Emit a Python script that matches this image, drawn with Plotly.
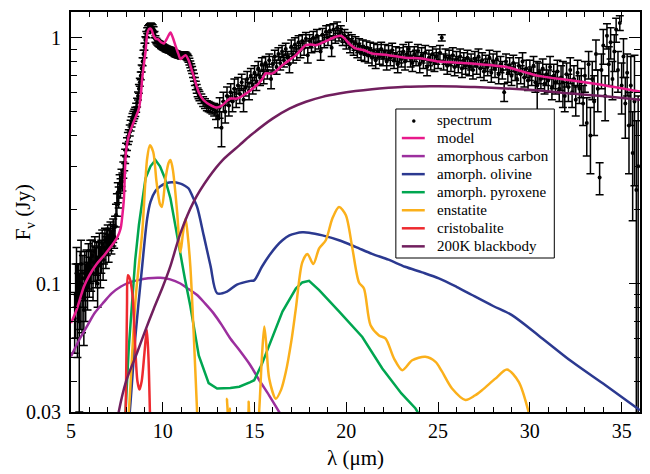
import plotly.graph_objects as go

# ---- observed spectrum (wavelength in micron, flux in Jy, 1-sigma error) ----
spec_wl = [5.20, 5.25, 5.30, 5.35, 5.40, 5.45, 5.50, 5.55, 5.60, 5.65, 5.70, 5.75, 5.80, 5.85, 5.90, 5.95,
           6.00, 6.05, 6.10, 6.15, 6.20, 6.25, 6.30, 6.35, 6.40, 6.45, 6.50, 6.55, 6.60, 6.65, 6.70, 6.75,
           6.80, 6.85, 6.90, 6.95, 7.00, 7.05, 7.10, 7.15, 7.20, 7.25, 7.30, 7.35, 7.40, 7.45, 7.50, 7.55,
           7.60, 7.65, 7.70, 7.75, 7.80, 7.85, 7.90, 7.95, 8.00, 8.05, 8.10, 8.15, 8.20, 8.25, 8.30, 8.35,
           8.40, 8.45, 8.50, 8.55, 8.60, 8.65, 8.70, 8.75, 8.80, 8.85, 8.90, 8.95, 9.00, 9.05, 9.10, 9.15,
           9.20, 9.25, 9.30, 9.35, 9.40, 9.45, 9.50, 9.55, 9.60, 9.65, 9.70, 9.75, 9.80, 9.85, 9.90, 9.95,
           10.00, 10.05, 10.10, 10.15, 10.20, 10.25, 10.30, 10.35, 10.40, 10.45, 10.50, 10.55, 10.60, 10.65,
           10.70, 10.75, 10.80, 10.85, 10.90, 10.95, 11.00, 11.05, 11.10, 11.15, 11.20, 11.25, 11.30, 11.35,
           11.40, 11.45, 11.50, 11.55, 11.60, 11.65, 11.70, 11.75, 11.80, 11.85, 11.90, 11.95, 12.00, 12.10,
           12.20, 12.30, 12.40, 12.50, 12.60, 12.70, 12.80, 12.90,
           13.0, 13.1, 13.2, 13.3, 13.4, 13.5, 13.6, 13.7, 13.8, 13.9,
           14.0, 14.1, 14.2, 14.3, 14.4, 14.5, 14.6, 14.7, 14.8, 14.9,
           15.0, 15.1, 15.2, 15.3, 15.4, 15.5, 15.6, 15.7, 15.8, 15.9,
           16.0, 16.1, 16.2, 16.3, 16.4, 16.5, 16.6, 16.7, 16.8, 16.9,
           17.0, 17.1, 17.2, 17.3, 17.4, 17.5, 17.6, 17.7, 17.8, 17.9,
           18.0, 18.1, 18.2, 18.3, 18.4, 18.5, 18.6, 18.7, 18.8, 18.9,
           19.0, 19.1, 19.2, 19.3, 19.4, 19.5, 19.6, 19.7, 19.8, 19.9,
           20.0, 20.1, 20.2, 20.3, 20.4, 20.5, 20.6, 20.7, 20.8, 20.9,
           21.0, 21.1, 21.2, 21.3, 21.4, 21.5, 21.6, 21.7, 21.8, 21.9,
           22.0, 22.1, 22.2, 22.3, 22.4, 22.5, 22.6, 22.7, 22.8, 22.9,
           23.0, 23.1, 23.2, 23.3, 23.4, 23.5, 23.6, 23.7, 23.8, 23.9,
           24.0, 24.1, 24.2, 24.3, 24.4, 24.5, 24.6, 24.7, 24.8, 24.9,
           25.0, 25.1, 25.2, 25.3, 25.4, 25.5, 25.6, 25.7, 25.8, 25.9,
           26.0, 26.1, 26.2, 26.3, 26.4, 26.5, 26.6, 26.7, 26.8, 26.9,
           27.0, 27.1, 27.2, 27.3, 27.4, 27.5, 27.6, 27.7, 27.8, 27.9,
           28.0, 28.1, 28.2, 28.3, 28.4, 28.5, 28.6, 28.7, 28.8, 28.9,
           29.0, 29.1, 29.2, 29.3, 29.4, 29.5, 29.6, 29.7, 29.8, 29.9,
           30.0, 30.1, 30.2, 30.3, 30.4, 30.5, 30.6, 30.7, 30.8, 30.9,
           31.0, 31.1, 31.2, 31.3, 31.4, 31.5, 31.6, 31.7, 31.8, 31.9,
           32.0, 32.1, 32.2, 32.3, 32.4, 32.5, 32.6, 32.7, 32.8, 32.9,
           33.0, 33.1, 33.2, 33.3, 33.4, 33.5, 33.6, 33.7, 33.8, 33.9,
           34.0, 34.1, 34.2, 34.3, 34.4, 34.5, 34.6, 34.7, 34.8, 34.9,
           35.0, 35.1, 35.2, 35.3, 35.4, 35.5, 35.6, 35.7, 35.8, 35.9]
spec_flux = [0.072, 0.090, 0.110, 0.085, 0.095, 0.070, 0.100, 0.120, 0.088, 0.105, 0.078, 0.110, 0.095, 0.115, 0.100, 0.120,
             0.108, 0.125, 0.115, 0.130, 0.110, 0.122, 0.135, 0.118, 0.128, 0.100, 0.125, 0.140, 0.118, 0.130, 0.145, 0.125,
             0.140, 0.150, 0.135, 0.148, 0.155, 0.140, 0.152, 0.160, 0.148, 0.158, 0.165, 0.155, 0.170, 0.190, 0.210, 0.235,
             0.225, 0.255, 0.245, 0.270, 0.260, 0.290, 0.310, 0.330, 0.350, 0.370, 0.390, 0.400, 0.420, 0.440, 0.455, 0.470,
             0.480, 0.490, 0.500, 0.520, 0.545, 0.580, 0.620, 0.660, 0.700, 0.750, 0.800, 0.860, 0.920, 0.980, 1.030, 1.070,
             1.090, 1.100, 1.110, 1.120, 1.110, 1.100, 1.080, 1.030, 0.990, 0.970, 0.960, 0.950, 0.945, 0.940, 0.930, 0.925,
             0.920, 0.915, 0.910, 0.905, 0.900, 0.898, 0.895, 0.892, 0.890, 0.885, 0.880, 0.875, 0.870, 0.865,
             0.860, 0.858, 0.855, 0.852, 0.850, 0.848, 0.845, 0.848, 0.850, 0.852, 0.850, 0.848, 0.840, 0.832,
             0.820, 0.800, 0.780, 0.760, 0.740, 0.715, 0.690, 0.665, 0.640, 0.620, 0.600, 0.590, 0.580, 0.565,
             0.550, 0.540, 0.530, 0.525, 0.520, 0.515, 0.510, 0.500,
             0.48, 0.52, 0.43, 0.55, 0.50, 0.58, 0.53, 0.60, 0.55, 0.62,
             0.57, 0.64, 0.59, 0.66, 0.56, 0.63, 0.68, 0.61, 0.70, 0.64,
             0.72, 0.66, 0.75, 0.69, 0.78, 0.71, 0.79, 0.73, 0.81, 0.68,
             0.78, 0.84, 0.76, 0.86, 0.79, 0.88, 0.81, 0.90, 0.83, 0.78,
             0.92, 0.85, 0.94, 0.87, 0.96, 0.89, 0.97, 0.91, 0.99, 0.85,
             0.97, 0.93, 1.00, 0.94, 1.02, 0.96, 0.88, 1.03, 0.97, 1.06,
             0.99, 1.07, 0.91, 1.08, 1.01, 1.10, 1.03, 1.06, 0.99, 1.02,
             0.96, 0.99, 0.93, 0.97, 0.91, 0.95, 0.89, 0.93, 0.87, 0.92,
             0.86, 0.91, 0.85, 0.90, 0.83, 0.89, 0.81, 0.88, 0.84, 0.90,
             0.83, 0.88, 0.80, 0.87, 0.83, 0.89, 0.81, 0.86, 0.78, 0.85,
             0.82, 0.88, 0.80, 0.86, 0.90, 0.82, 0.79, 0.86, 0.83, 0.88,
             0.78, 0.85, 0.81, 0.87, 0.76, 0.83, 0.80, 0.86, 0.79, 0.84,
             0.81, 0.87, 1.00, 0.80, 0.84, 0.77, 0.83, 0.79, 0.85, 0.76,
             0.82, 0.78, 0.84, 0.75, 0.81, 0.77, 0.83, 0.76, 0.80, 0.74,
             0.82, 0.77, 0.84, 0.75, 0.81, 0.73, 0.79, 0.76, 0.83, 0.72,
             0.80, 0.75, 0.82, 0.71, 0.78, 0.74, 0.60, 0.80, 0.72, 0.77,
             0.70, 0.79, 0.73, 0.68, 0.77, 0.71, 0.80, 0.69, 0.75, 0.67,
             0.74, 0.70, 0.77, 0.66, 0.64, 0.72, 0.68, 0.75, 0.65, 0.71,
             0.67, 0.76, 0.63, 0.70, 0.66, 0.73, 0.62, 0.69, 0.66, 0.58,
             0.71, 0.63, 0.74, 0.60, 0.68, 0.56, 0.72, 0.62, 0.66, 0.54,
             0.70, 0.45, 0.78, 0.40, 0.68, 0.55, 0.86, 0.62, 0.27, 0.74,
             0.93, 0.58, 1.02, 0.78, 0.96, 0.68, 0.88, 1.08, 0.74, 1.15,
             0.64, 0.84, 0.54, 0.72, 0.44, 0.64, 0.34, 0.55, 0.24, 0.30]
spec_err = [0.020, 0.030, 0.030, 0.035, 0.025, 0.040, 0.035, 0.030, 0.025, 0.025, 0.022, 0.025, 0.025, 0.022, 0.022, 0.025,
            0.020, 0.025, 0.022, 0.020, 0.025, 0.020, 0.020, 0.022, 0.020, 0.020, 0.022, 0.020, 0.022, 0.020, 0.020, 0.022,
            0.020, 0.018, 0.020, 0.018, 0.018, 0.018, 0.016, 0.018, 0.016, 0.016, 0.018, 0.016, 0.018, 0.020, 0.022, 0.022,
            0.022, 0.022, 0.022, 0.022, 0.022, 0.022, 0.022, 0.022, 0.022, 0.022, 0.022, 0.022, 0.022, 0.022, 0.022, 0.022,
            0.022, 0.022, 0.022, 0.022, 0.022, 0.022, 0.025, 0.025, 0.025, 0.025, 0.030, 0.030, 0.030, 0.030, 0.030, 0.030,
            0.030, 0.030, 0.030, 0.030, 0.030, 0.030, 0.030, 0.030, 0.030, 0.025, 0.025, 0.025, 0.025, 0.025, 0.025, 0.025,
            0.025, 0.025, 0.025, 0.025, 0.025, 0.025, 0.025, 0.025, 0.025, 0.025, 0.025, 0.025, 0.025, 0.025,
            0.025, 0.025, 0.025, 0.025, 0.025, 0.025, 0.025, 0.025, 0.025, 0.025, 0.025, 0.025, 0.025, 0.025,
            0.025, 0.025, 0.025, 0.025, 0.025, 0.025, 0.025, 0.025, 0.025, 0.025, 0.025, 0.025, 0.025, 0.025,
            0.025, 0.025, 0.025, 0.025, 0.025, 0.025, 0.030, 0.035,
            0.05, 0.05, 0.07, 0.05, 0.05, 0.05, 0.05, 0.05, 0.05, 0.06,
            0.05, 0.05, 0.05, 0.05, 0.06, 0.05, 0.05, 0.05, 0.05, 0.05,
            0.05, 0.05, 0.05, 0.05, 0.05, 0.06, 0.05, 0.05, 0.05, 0.06,
            0.06, 0.05, 0.05, 0.05, 0.05, 0.05, 0.05, 0.05, 0.05, 0.06,
            0.06, 0.06, 0.06, 0.06, 0.06, 0.06, 0.06, 0.06, 0.06, 0.06,
            0.06, 0.06, 0.06, 0.06, 0.06, 0.06, 0.07, 0.06, 0.06, 0.06,
            0.06, 0.06, 0.07, 0.06, 0.06, 0.06, 0.06, 0.06, 0.06, 0.06,
            0.06, 0.06, 0.06, 0.06, 0.06, 0.06, 0.06, 0.06, 0.06, 0.06,
            0.06, 0.06, 0.06, 0.06, 0.06, 0.06, 0.06, 0.06, 0.06, 0.06,
            0.06, 0.06, 0.06, 0.06, 0.06, 0.06, 0.06, 0.06, 0.06, 0.06,
            0.06, 0.06, 0.06, 0.06, 0.06, 0.06, 0.06, 0.06, 0.06, 0.06,
            0.06, 0.06, 0.06, 0.06, 0.06, 0.06, 0.06, 0.06, 0.06, 0.06,
            0.06, 0.06, 0.03, 0.06, 0.06, 0.06, 0.06, 0.06, 0.06, 0.06,
            0.06, 0.06, 0.06, 0.06, 0.06, 0.06, 0.06, 0.06, 0.06, 0.06,
            0.06, 0.06, 0.06, 0.06, 0.06, 0.06, 0.06, 0.06, 0.06, 0.06,
            0.06, 0.06, 0.06, 0.06, 0.06, 0.06, 0.05, 0.06, 0.06, 0.06,
            0.06, 0.06, 0.06, 0.06, 0.06, 0.06, 0.07, 0.06, 0.06, 0.06,
            0.07, 0.06, 0.07, 0.06, 0.16, 0.07, 0.06, 0.07, 0.06, 0.07,
            0.07, 0.08, 0.07, 0.08, 0.07, 0.08, 0.07, 0.08, 0.14, 0.08,
            0.08, 0.08, 0.09, 0.08, 0.09, 0.08, 0.09, 0.08, 0.09, 0.10,
            0.10, 0.12, 0.10, 0.12, 0.12, 0.15, 0.12, 0.12, 0.04, 0.12,
            0.15, 0.12, 0.12, 0.14, 0.14, 0.12, 0.15, 0.12, 0.14, 0.08,
            0.15, 0.15, 0.15, 0.14, 0.16, 0.20, 0.16, 0.30, 0.22, 0.28]

# ---- fitted model and its components ----
model_wl = [5.0, 5.3, 5.7, 6.0, 6.4, 6.8, 7.2, 7.5, 7.7, 7.8, 7.88, 7.95, 8.0, 8.15, 8.42, 8.7, 8.8, 8.88,
            8.97, 9.06, 9.18, 9.3, 9.38, 9.5, 9.62, 9.73, 9.9, 10.05, 10.25, 10.42, 10.55, 10.69, 10.85, 10.96,
            11.1, 11.24, 11.41, 11.55, 11.68, 11.96, 12.23, 12.6, 12.96, 13.23, 13.45, 13.68, 14.04, 14.4, 14.77,
            14.9, 15.2, 15.44, 15.6, 15.98, 16.52, 17.25, 17.79, 18.05, 18.34, 18.88, 19.42, 19.7, 19.9, 20.15,
            20.5, 20.96, 21.4, 22.3, 23.2, 24.1, 25.04, 26.85, 28.66, 29.57, 30.47, 32.3, 34.1, 36.0]
model_flux = [0.069, 0.078, 0.097, 0.108, 0.12, 0.13, 0.142, 0.153, 0.167, 0.19, 0.22, 0.30, 0.345, 0.40, 0.455,
              0.515, 0.58, 0.683, 0.78, 0.877, 1.06, 1.09, 1.08, 1.02, 0.99, 0.987, 0.96, 0.948, 1.0, 1.05, 1.0,
              0.93, 0.86, 0.82, 0.835, 0.85, 0.81, 0.75, 0.70, 0.60, 0.557, 0.532, 0.52, 0.53, 0.55, 0.566, 0.566,
              0.584, 0.61, 0.622, 0.65, 0.683, 0.716, 0.716, 0.774, 0.85, 0.933, 0.94, 0.933, 0.97, 1.01, 1.02,
              0.995, 0.948, 0.905, 0.89, 0.863, 0.85, 0.829, 0.824, 0.80, 0.786, 0.762, 0.73, 0.70, 0.67, 0.64, 0.605]

carbon_wl = [5.0, 5.5, 5.9, 6.3, 6.8, 7.2, 7.7, 8.2, 8.6, 9.2, 9.87, 10.4, 10.96, 11.4, 11.87, 12.3, 12.77,
             13.2, 13.68, 14.17, 14.77, 15.26, 15.8, 16.34, 16.8]
carbon_flux = [0.0505, 0.060, 0.0676, 0.076, 0.0842, 0.091, 0.097, 0.101, 0.103, 0.105, 0.1055, 0.104, 0.100,
               0.095, 0.0898, 0.083, 0.0756, 0.068, 0.0597, 0.0536, 0.0465, 0.0404, 0.035, 0.030, 0.026]

olivine_wl = [8.0, 8.2, 8.5, 8.88, 9.15, 9.33, 9.6, 9.87, 10.2, 10.5, 10.96, 11.2, 11.41, 11.6, 11.87, 12.23,
              12.6, 12.96, 13.5, 14.04, 14.77, 14.98, 15.4, 15.8, 16.2, 16.52, 16.9, 17.25, 17.6, 17.97, 18.7,
              19.6, 20.5, 21.4, 22.3, 23.2, 24.13, 25.04, 26.0, 26.85, 28.0, 29.0, 30.47, 32.3, 34.1, 36.0]
olivine_flux = [0.022, 0.030, 0.060, 0.118, 0.184, 0.215, 0.238, 0.249, 0.256, 0.258, 0.255, 0.250, 0.2435,
                0.228, 0.205, 0.157, 0.118, 0.0913, 0.0927, 0.099, 0.1025, 0.103, 0.117, 0.130, 0.142, 0.150,
                0.157, 0.160, 0.1615, 0.161, 0.157, 0.150, 0.141, 0.132, 0.125, 0.117, 0.111, 0.105, 0.097,
                0.0898, 0.081, 0.0745, 0.0615, 0.048, 0.0386, 0.0305]

pyroxene_wl = [7.8, 7.97, 8.15, 8.34, 8.5, 8.7, 8.9, 9.06, 9.33, 9.6, 9.85, 10.1, 10.42, 10.7, 10.96, 11.2,
               11.5, 11.96, 12.5, 12.96, 13.68, 14.17, 14.77, 14.98, 15.4, 15.8, 16.52, 17.25, 17.6, 17.97,
               18.52, 19.6, 20.87, 21.96, 23.0, 23.77, 24.0]
pyroxene_flux = [0.022, 0.030, 0.055, 0.087, 0.125, 0.173, 0.225, 0.268, 0.300, 0.318, 0.300, 0.270, 0.222,
                 0.170, 0.130, 0.105, 0.081, 0.051, 0.0393, 0.0374, 0.0376, 0.038, 0.0397, 0.0404, 0.047, 0.056,
                 0.0769, 0.0954, 0.101, 0.1025, 0.094, 0.077, 0.0606, 0.0451, 0.0357, 0.031, 0.029]

enstatite_wl = [8.0, 8.15, 8.52, 8.88, 9.15, 9.3, 9.48, 9.66, 9.85, 9.95, 10.15, 10.32, 10.42, 10.55, 10.78,
                10.96, 11.1, 11.24, 11.35, 11.5, 11.68, 11.87, 11.95, 13.4, 13.5, 13.58, 13.65, 13.72, 14.6,
                14.68, 14.76, 15.1, 15.26, 15.4, 15.53, 15.65, 15.8, 16.16, 16.45, 16.7, 17.0, 17.25, 17.6,
                17.88, 18.2, 18.52, 18.88, 19.24, 19.6, 19.97, 20.33, 20.69, 20.96, 21.32, 21.78, 22.14, 22.6,
                23.05, 23.59, 24.3, 24.86, 25.2, 25.76, 26.49, 27.0, 27.39, 28.12, 28.75, 29.4, 29.93, 30.1]
enstatite_flux = [0.022, 0.030, 0.087, 0.162, 0.323, 0.365, 0.343, 0.259, 0.21, 0.205, 0.268, 0.31, 0.318,
                  0.29, 0.196, 0.134, 0.16, 0.184, 0.16, 0.118, 0.0636, 0.030, 0.022, 0.022, 0.034, 0.026, 0.031,
                  0.022, 0.022, 0.033, 0.022, 0.022, 0.031, 0.050, 0.0668, 0.055, 0.041, 0.034, 0.037, 0.0435,
                  0.058, 0.079, 0.122, 0.132, 0.120, 0.139, 0.150, 0.184, 0.205, 0.190, 0.139, 0.101, 0.0954,
                  0.0676, 0.0615, 0.0597, 0.0495, 0.0444, 0.0487, 0.0503, 0.048, 0.044, 0.0374, 0.0336, 0.035,
                  0.0368, 0.041, 0.0447, 0.0397, 0.030, 0.026]

cristobalite_wl = [7.9, 7.98, 8.05, 8.1, 8.2, 8.35, 8.5, 8.62, 8.73, 8.85, 9.0, 9.13, 9.22, 9.3, 9.36]
cristobalite_flux = [0.020, 0.030, 0.080, 0.108, 0.105, 0.090, 0.055, 0.040, 0.037, 0.040, 0.052, 0.065, 0.050,
                     0.030, 0.020]

blackbody_wl = [7.4, 7.6, 8.0, 8.61, 9.0, 9.51, 10.0, 10.42, 10.96, 11.68, 12.5, 13.3, 14.17, 14.77, 15.98,
                16.9, 17.8, 18.7, 19.6, 20.5, 21.4, 22.3, 23.2, 24.1, 25.0, 26.0, 27.0, 28.7, 30.5, 32.3, 34.1,
                36.0]
blackbody_flux = [0.024, 0.030, 0.040, 0.0525, 0.063, 0.079, 0.097, 0.118, 0.160, 0.215, 0.270, 0.320, 0.365,
                  0.400, 0.469, 0.515, 0.549, 0.575, 0.593, 0.607, 0.618, 0.626, 0.632, 0.634, 0.635, 0.634,
                  0.630, 0.622, 0.610, 0.593, 0.578, 0.560]

x_ticks = [5, 10, 15, 20, 25, 30, 35]
x_minor = [v for v in range(6, 36) if v % 5 != 0]
y_ticks = [0.03, 0.1, 1]
y_ticktext = ["0.03", "0.1", "1"]
y_minor = [0.04, 0.05, 0.06, 0.07, 0.08, 0.09, 0.2, 0.3, 0.4, 0.5, 0.6, 0.7, 0.8, 0.9]

FONT = '"Liberation Serif", "Times New Roman", Times, "DejaVu Serif", serif'

fig = go.Figure()

fig.add_trace(go.Scatter(
    x=spec_wl, y=spec_flux, mode="markers", name="spectrum",
    marker=dict(color="black", size=4),
    error_y=dict(type="data", array=spec_err, visible=True, color="black", thickness=1.5, width=4),
))

components = [
    ("model", model_wl, model_flux, "#e8198b", "spline"),
    ("amorphous carbon", carbon_wl, carbon_flux, "#9c2f9e", "spline"),
    ("amorph. olivine", olivine_wl, olivine_flux, "#2b3990", "spline"),
    ("amorph. pyroxene", pyroxene_wl, pyroxene_flux, "#00a650", "linear"),
    ("enstatite", enstatite_wl, enstatite_flux, "#fbb01b", "spline"),
    ("cristobalite", cristobalite_wl, cristobalite_flux, "#ee2a2f", "spline"),
    ("200K blackbody", blackbody_wl, blackbody_flux, "#711f5e", "spline"),
]
for name, wl, fl, color, shape in components:
    fig.add_trace(go.Scatter(
        x=wl, y=fl, mode="lines", name=name,
        line=dict(color=color, width=2.5, shape=shape, smoothing=0.8 if shape == "spline" else None),
    ))

axis_common = dict(
    showline=True, linecolor="black", linewidth=2, mirror="ticks",
    ticks="inside", tickcolor="black", tickwidth=1.3,
    showgrid=False, zeroline=False,
    tickfont=dict(family=FONT, size=20, color="black"),
)

fig.update_xaxes(
    range=[5, 36], tickvals=x_ticks, ticklen=10,
    minor=dict(tickvals=x_minor, ticks="inside", ticklen=5, tickcolor="black", tickwidth=1.2, showgrid=False),
    **axis_common,
)
fig.update_yaxes(
    type="log", range=[-1.5229, 0.105], tickvals=y_ticks, ticktext=y_ticktext, ticklen=11,
    minor=dict(tickvals=y_minor, ticks="inside", ticklen=6, tickcolor="black", tickwidth=1.2, showgrid=False),
    ticklabelstandoff=4,
    **axis_common,
)

# ---- boxed legend in the lower right part of the plot area ----
PLOT_L, PLOT_W, PLOT_B, PLOT_H = 71, 571, 412, 400


def px_x(px):
    return (px - PLOT_L) / PLOT_W


def px_y(py):
    return (PLOT_B - py) / PLOT_H


legend_rows = [("spectrum", "black", "marker")] + [(c[0], c[3], "line") for c in components]
shapes = [dict(type="rect", xref="paper", yref="paper",
               x0=px_x(397), x1=px_x(556), y0=px_y(258), y1=px_y(109),
               line=dict(color="black", width=1), fillcolor="white", layer="above")]
annotations = []
for i, (label, color, kind) in enumerate(legend_rows):
    yc = 120 + 18.05 * i
    if kind == "marker":
        shapes.append(dict(type="circle", xref="paper", yref="paper",
                           x0=px_x(413.5), x1=px_x(416.5), y0=px_y(yc + 2.5), y1=px_y(yc - 0.5),
                           line=dict(color="black", width=0.5), fillcolor="black", layer="above"))
    else:
        shapes.append(dict(type="line", xref="paper", yref="paper",
                           x0=px_x(403), x1=px_x(426), y0=px_y(yc), y1=px_y(yc),
                           line=dict(color=color, width=2.5), layer="above"))
    annotations.append(dict(text=label, x=px_x(436), y=px_y(yc), xref="paper", yref="paper",
                            xanchor="left", yanchor="middle", showarrow=False,
                            font=dict(family=FONT, size=15, color="black")))

annotations += [
    dict(text="λ (μm)", x=0.5, y=-0.116, xref="paper", yref="paper",
         xanchor="center", yanchor="middle", showarrow=False,
         font=dict(family=FONT, size=21, color="black")),
    dict(text="F<sub>ν</sub> (Jy)", x=-0.082, y=0.5, xref="paper", yref="paper",
         xanchor="center", yanchor="middle", textangle=-90, showarrow=False,
         font=dict(family=FONT, size=21, color="black")),
]

fig.update_layout(
    width=650, height=474,
    margin=dict(l=71, r=8, t=12, b=62),
    paper_bgcolor="white", plot_bgcolor="white",
    font=dict(family=FONT, color="black"),
    showlegend=False,
    shapes=shapes,
    annotations=annotations,
)

fig.write_html("out.html")
